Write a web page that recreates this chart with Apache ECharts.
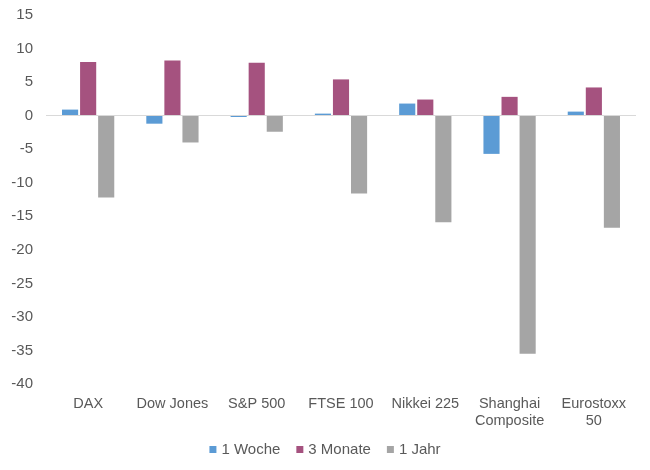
<!DOCTYPE html>
<html>
<head>
<meta charset="utf-8">
<script src="https://cdn.jsdelivr.net/npm/echarts@6/dist/echarts.min.js"></script>
<style>html,body{margin:0;padding:0;background:#fff}#c{width:650px;height:470px}</style>
</head>
<body>
<div id="c"></div>
<script>
var categories = ['DAX', 'Dow Jones', 'S&P 500', 'FTSE 100', 'Nikkei 225', 'Shanghai\nComposite', 'Eurostoxx\n50'];
var woche = [0.9, -1.2, -0.2, 0.3, 1.8, -5.7, 0.6];
var monate = [8.0, 8.2, 7.9, 5.4, 2.4, 2.8, 4.2];
var jahr = [-12.2, -4.0, -2.4, -11.6, -15.9, -35.5, -16.7];
var seriesNames = ['1 Woche', '3 Monate', '1 Jahr'];

var chart = echarts.init(document.getElementById('c'), null, {renderer: 'canvas'});
var font = 'Liberation Sans, Arial, sans-serif';
chart.setOption({
  animation: false,
  color: ['#5B9BD5', '#A5527F', '#A5A5A5'],
  textStyle: {fontFamily: font},
  grid: {left: 46, right: 14, top: 15, bottom: 86},
  legend: {
    bottom: 8, left: 'center', itemWidth: 7, itemHeight: 7, itemGap: 16,
    icon: 'rect',
    textStyle: {fontSize: 15, color: '#595959', fontFamily: font},
    data: seriesNames
  },
  xAxis: {
    type: 'category', data: categories,
    axisLine: {show: false, onZero: false},
    axisTick: {show: false},
    axisLabel: {fontSize: 14.5, color: '#595959', margin: 11, lineHeight: 17, interval: 0, fontFamily: font}
  },
  yAxis: {
    type: 'value', min: -40, max: 15, interval: 5,
    axisLine: {show: false}, axisTick: {show: false},
    splitLine: {show: false},
    axisLabel: {fontSize: 15, color: '#595959', margin: 13, fontFamily: font}
  },
  series: [
    {name: seriesNames[0], type: 'bar', data: woche, barGap: '12%', barCategoryGap: '38%',
     markLine: {silent: true, symbol: 'none', label: {show: false},
       lineStyle: {color: '#D9D9D9', width: 1, type: 'solid'}, data: [{yAxis: 0}]}},
    {name: seriesNames[1], type: 'bar', data: monate, barGap: '12%', barCategoryGap: '38%'},
    {name: seriesNames[2], type: 'bar', data: jahr, barGap: '12%', barCategoryGap: '38%'}
  ]
});
</script>
</body>
</html>
